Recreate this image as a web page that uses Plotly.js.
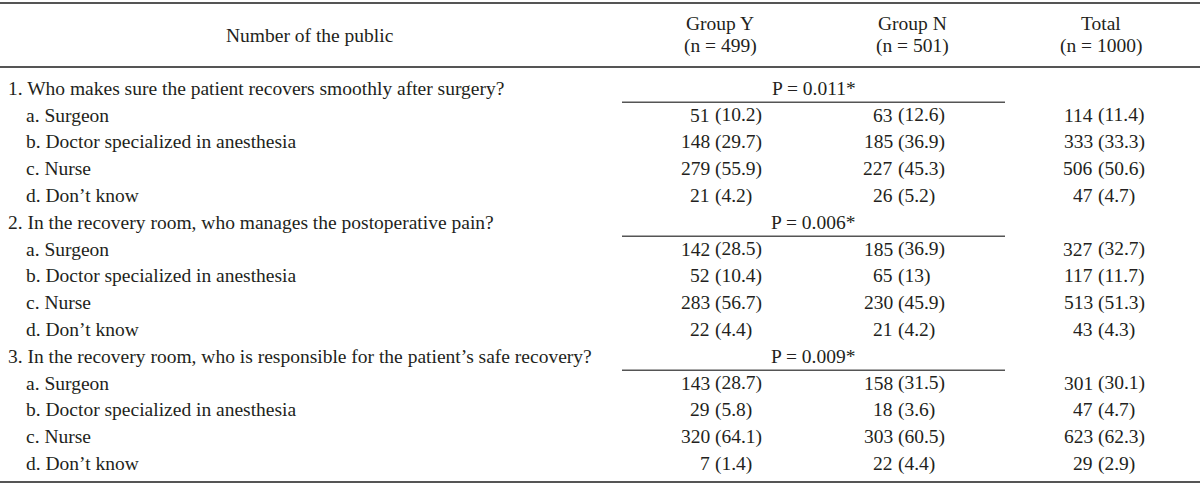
<!DOCTYPE html>
<html>
<head>
<meta charset="utf-8">
<script src="https://cdn.plot.ly/plotly-3.0.1.min.js"></script>
<style>html,body{margin:0;padding:0;background:#fff;}#chart{width:1200px;height:485px;}</style>
</head>
<body>
<div id="chart"></div>
<script>
// ---- data ----
const headerLabel = "Number of the public";
const groupHeaders = ["Group Y", "Group N", "Total"];
const groupSizes = ["(n = 499)", "(n = 501)", "(n = 1000)"];
const questions = [
  "1. Who makes sure the patient recovers smoothly after surgery?",
  "2. In the recovery room, who manages the postoperative pain?",
  "3. In the recovery room, who is responsible for the patient\u2019s safe recovery?"
];
const options = ["a. Surgeon", "b. Doctor specialized in anesthesia", "c. Nurse", "d. Don\u2019t know"];
const pValues = ["P = 0.011*", "P = 0.006*", "P = 0.009*"];
const groupYCounts = [[51, 148, 279, 21], [142, 52, 283, 22], [143, 29, 320, 7]];
const groupYPct = [["10.2", "29.7", "55.9", "4.2"], ["28.5", "10.4", "56.7", "4.4"], ["28.7", "5.8", "64.1", "1.4"]];
const groupNCounts = [[63, 185, 227, 26], [185, 65, 230, 21], [158, 18, 303, 22]];
const groupNPct = [["12.6", "36.9", "45.3", "5.2"], ["36.9", "13", "45.9", "4.2"], ["31.5", "3.6", "60.5", "4.4"]];
const totalCounts = [[114, 333, 506, 47], [327, 117, 513, 43], [301, 47, 623, 29]];
const totalPct = [["11.4", "33.3", "50.6", "4.7"], ["32.7", "11.7", "51.3", "4.3"], ["30.1", "4.7", "62.3", "2.9"]];

// ---- layout constants ----
const W = 1200, H = 485;
const FONT = {family: "'Liberation Serif', 'DejaVu Serif', serif", size: 19.5, color: "#231f20"};
const colCenters = [720, 912, 1101];
const parenAnchors = [715, 898, 1098];
const rowTop = 88.3, rowPitch = 26.8;
const pLine = [622, 1005];

const annotations = [];
const shapes = [];
function txt(x, y, text, xanchor) {
  annotations.push({x: x, y: y, xref: "x", yref: "y", text: text, showarrow: false,
    xanchor: xanchor || "center", yanchor: "middle", font: FONT, borderpad: 0, borderwidth: 0});
}
function hline(x0, x1, y, line) {
  shapes.push({type: "line", xref: "x", yref: "y", x0: x0, x1: x1, y0: y, y1: y, line: line});
}

// header
hline(0, W, 3, {color: "#555555", width: 2});
txt(310, 35, headerLabel);
groupHeaders.forEach((g, i) => { txt(colCenters[i], 23, g); txt(colCenters[i], 46, groupSizes[i]); });
hline(0, W, 67, {color: "#555555", width: 1.8});

const groups = [[groupYCounts, groupYPct], [groupNCounts, groupNPct], [totalCounts, totalPct]];
let r = 0;
questions.forEach((q, qi) => {
  const yq = rowTop + r * rowPitch;
  txt(8, yq, q, "left");
  txt((pLine[0] + pLine[1]) / 2, yq, pValues[qi]);
  hline(pLine[0], pLine[1], yq + 14, {color: "#555555", width: 1.4});
  r++;
  options.forEach((o, oi) => {
    const y = rowTop + r * rowPitch;
    txt(26, y, o, "left");
    groups.forEach((g, gi) => {
      txt(parenAnchors[gi] - 4.8, y, String(g[0][qi][oi]), "right");
      txt(parenAnchors[gi], y, "(" + g[1][qi][oi] + ")", "left");
    });
    r++;
  });
});
hline(0, W, 482, {color: "#555555", width: 1.8});

const layout = {
  width: W, height: H,
  margin: {l: 0, r: 0, t: 0, b: 0, pad: 0},
  paper_bgcolor: "#ffffff", plot_bgcolor: "#ffffff",
  showlegend: false,
  xaxis: {range: [0, W], visible: false, fixedrange: true},
  yaxis: {range: [H, 0], visible: false, fixedrange: true},
  annotations: annotations,
  shapes: shapes
};
Plotly.newPlot("chart", [{x: [], y: [], type: "scatter", mode: "markers", hoverinfo: "skip"}], layout,
  {staticPlot: true, displayModeBar: false});
</script>
</body>
</html>
